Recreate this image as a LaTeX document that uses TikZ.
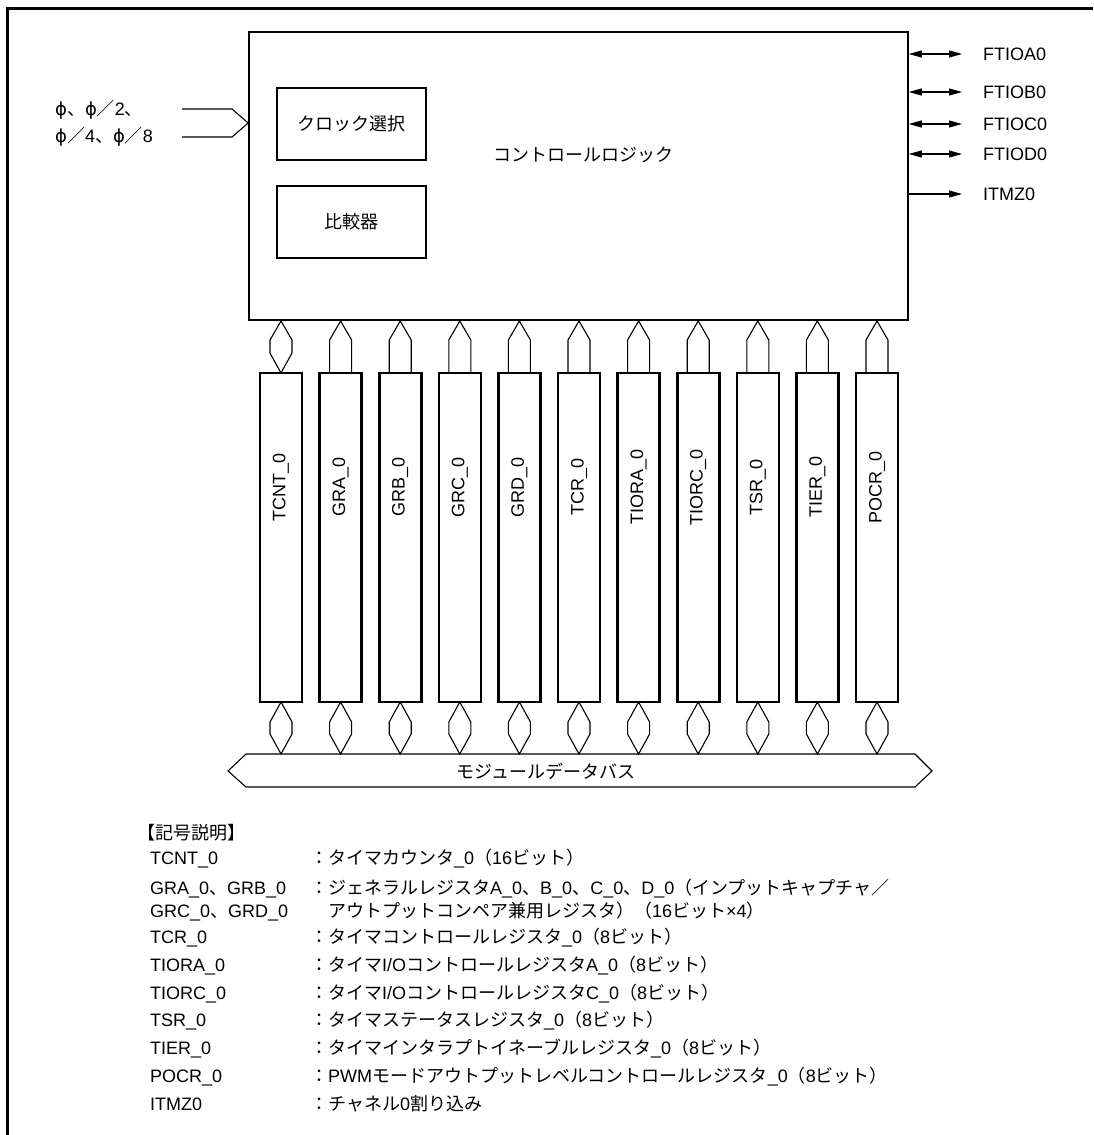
\documentclass[tikz,border=0pt]{standalone}
\usepackage{fontspec}
\setmainfont{Liberation Sans}
\newfontfamily\jp{Noto Sans CJK JP}
\newfontfamily\dvs{DejaVu Sans}
\usetikzlibrary{arrows.meta}
\newcommand\J[1]{{\jp #1}}
\newcommand\ph{{\dvs ϕ}}
\tikzset{
  box/.style={draw, line width=1.6pt, inner sep=0pt},
  regbox/.style={draw, line width=2.6pt, minimum width=42pt, minimum height=329pt, inner sep=0pt},
  conn/.style={line width=1.1pt, line join=miter},
  io/.style={line width=1.1pt},
  tip/.tip={Triangle[length=13pt,width=7pt]},
  lbl/.style={inner sep=0pt},
}
\begin{document}
\begin{tikzpicture}[x=1pt,y=-1pt,font=\fontsize{18}{22}\selectfont]
\useasboundingbox (0,0) rectangle (1093,1135);
% frame
\draw[line width=3pt] (7,1135) -- (7,8) -- (1093,8);
% main block
\node[box, minimum width=659pt, minimum height=288pt] (main) at (578.5,176) {};
\node[lbl] (ctl) at (583,155) {\J{コントロールロジック}};
\node[box, minimum width=149pt, minimum height=72pt] (clk) at (351.5,124) {\J{クロック選択}};
\node[box, minimum width=149pt, minimum height=72pt] (cmp) at (351.5,222) {\J{比較器}};
% clock inputs
\node[lbl, anchor=base west] (in1) at (55,115.5) {\ph\J{、}\ph\J{／}2\J{、}};
\node[lbl, anchor=base west] (in2) at (55,142.5) {\ph\J{／}4\J{、}\ph\J{／}8};
\coordinate (ia) at (182,109);
\coordinate (ib) at (182,137);
\coordinate (inpt) at (main.west |- 0,123);
\draw[io] (ia) -- (232,109) -- (inpt) -- (232,137) -- (ib);
% right side signals
\foreach \t/\y/\bi in {FTIOA0/54/1, FTIOB0/92/1, FTIOC0/124/1, FTIOD0/154/1, ITMZ0/194/0}{
  \node[lbl, anchor=west] (s\t) at (983,\y) {\t};
  \coordinate (e\t) at (962,\y);
  \ifnum\bi=1
    \draw[io, tip-tip] (main.east |- e\t) -- (e\t);
  \else
    \draw[io, -tip] (main.east |- e\t) -- (e\t);
  \fi
}
% registers
\foreach \n [count=\i from 0] in {TCNT,GRA,GRB,GRC,GRD,TCR,TIORA,TIORC,TSR,TIER,POCR}{
  \pgfmathsetmacro\cx{281+59.6*\i}
  \node[regbox] (r\i) at (\cx,537.5) {};
  \node[lbl, rotate=90] (rl\i) at (\cx,487) {\n\_0};
  \ifnum\i=0
    \draw[conn] (\cx,321) -- (\cx+11,340) -- (\cx+11,353) -- (\cx,373) -- (\cx-11,353) -- (\cx-11,340) -- cycle;
  \else
    \draw[conn] (\cx-11,373) -- (\cx-11,340) -- (\cx,321) -- (\cx+11,340) -- (\cx+11,373);
  \fi
  \draw[conn] (\cx,702) -- (\cx+11,722) -- (\cx+11,734) -- (\cx,754) -- (\cx-11,734) -- (\cx-11,722) -- cycle;
}
% bus
\draw[conn] (228,771) -- (246,754) -- (915,754) -- (932,771) -- (915,787) -- (246,787) -- cycle;
\node[lbl] (bus) at (546,771) {\J{モジュールデータバス}};
% legend
\node[lbl, anchor=base west] (lh) at (137,839) {\J{【記号説明】}};
\foreach \a/\b/\y in {
  TCNT\_0/{\J{：タイマカウンタ}\_0\J{（}16\J{ビット）}}/864.5,
  GRA\_0\J{、}GRB\_0/{\J{：ジェネラルレジスタ}A\_0\J{、}B\_0\J{、}C\_0\J{、}D\_0\J{（インプットキャプチャ／}}/894.5,
  GRC\_0\J{、}GRD\_0/{\J{　アウトプットコンペア兼用レジスタ）（}16\J{ビット}×4\J{）}}/917.5,
  TCR\_0/{\J{：タイマコントロールレジスタ}\_0\J{（}8\J{ビット）}}/943.5,
  TIORA\_0/{\J{：タイマ}I/O\J{コントロールレジスタ}A\_0\J{（}8\J{ビット）}}/971.3,
  TIORC\_0/{\J{：タイマ}I/O\J{コントロールレジスタ}C\_0\J{（}8\J{ビット）}}/999.1,
  TSR\_0/{\J{：タイマステータスレジスタ}\_0\J{（}8\J{ビット）}}/1026.9,
  TIER\_0/{\J{：タイマインタラプトイネーブルレジスタ}\_0\J{（}8\J{ビット）}}/1054.7,
  POCR\_0/{\J{：}PWM\J{モードアウトプットレベルコントロールレジスタ}\_0\J{（}8\J{ビット）}}/1082.5,
  ITMZ0/{\J{：チャネル}0\J{割り込み}}/1110.3}{
  \node[lbl, anchor=base west] at (150,\y) {\a};
  \node[lbl, anchor=base west] at (310,\y) {\b};
}
\end{tikzpicture}
\end{document}
